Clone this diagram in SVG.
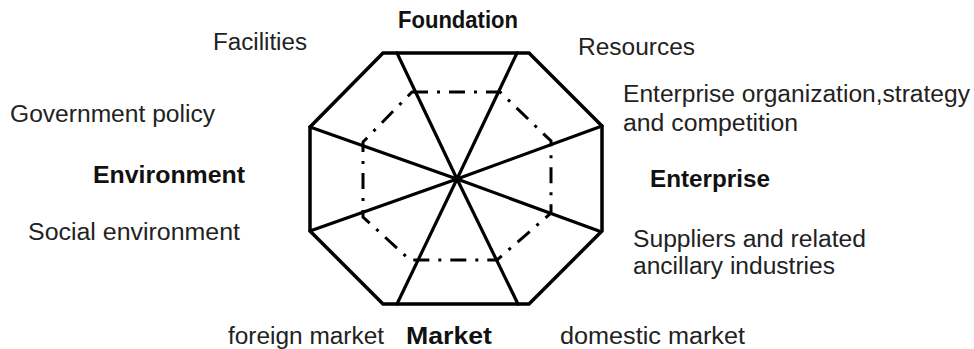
<svg xmlns="http://www.w3.org/2000/svg" width="974" height="349" viewBox="0 0 974 349">
  <style>
    .frame { fill: none; stroke: #000; stroke-width: 3.5; stroke-linejoin: miter; }
    .spoke { fill: none; stroke: #000; stroke-width: 3.2; stroke-linecap: round; }
    .inner { fill: none; stroke: #000; stroke-width: 3; stroke-dasharray: 16 9 3 9; }
    .lbl { font-family: "Liberation Sans", Arial, sans-serif; font-size: 23px; fill: #222; }
    .head { font-family: "Liberation Sans", Arial, sans-serif; font-size: 23px; font-weight: bold; fill: #111; }
  </style>
  <rect width="974" height="349" fill="#fff"/>

  <!-- outer octagon -->
  <g id="octagon">
    <polygon class="frame" points="383,53 529,53 602,126 602,231 529,304 383,304 310,231 310,127"/>
  </g>

  <!-- inner dash-dot octagon -->
  <g id="inner-ring">
    <polygon class="inner" points="412,92 500,92 551,141 551,213 497,260 410,260 363,217 363,142"/>
  </g>

  <!-- spokes from the centre -->
  <g id="connectors">
    <line class="spoke" x1="457" y1="179" x2="397" y2="53"/>
    <line class="spoke" x1="457" y1="179" x2="517" y2="53"/>
    <line class="spoke" x1="457" y1="179" x2="602" y2="126"/>
    <line class="spoke" x1="457" y1="179" x2="599" y2="231"/>
    <line class="spoke" x1="457" y1="179" x2="518" y2="304"/>
    <line class="spoke" x1="457" y1="179" x2="397" y2="304"/>
    <line class="spoke" x1="457" y1="179" x2="310" y2="231"/>
    <line class="spoke" x1="457" y1="179" x2="310" y2="127"/>
  </g>

  <!-- headings -->
  <g id="foundation"><text class="head" x="398" y="28" textLength="120" lengthAdjust="spacingAndGlyphs">Foundation</text></g>
  <g id="enterprise"><text class="head" x="650" y="187" textLength="120" lengthAdjust="spacingAndGlyphs">Enterprise</text></g>
  <g id="market"><text class="head" x="406" y="344" textLength="86" lengthAdjust="spacingAndGlyphs">Market</text></g>
  <g id="environment"><text class="head" x="93" y="183" textLength="152" lengthAdjust="spacingAndGlyphs">Environment</text></g>

  <!-- factor labels -->
  <g id="facilities"><text class="lbl" x="213" y="50" textLength="94" lengthAdjust="spacingAndGlyphs">Facilities</text></g>
  <g id="resources"><text class="lbl" x="578" y="55" textLength="117" lengthAdjust="spacingAndGlyphs">Resources</text></g>
  <g id="organization">
    <text class="lbl" x="623" y="102" textLength="347" lengthAdjust="spacingAndGlyphs">Enterprise organization,strategy</text>
    <text class="lbl" x="623" y="131" textLength="175" lengthAdjust="spacingAndGlyphs">and competition</text>
  </g>
  <g id="suppliers">
    <text class="lbl" x="633" y="247" textLength="233" lengthAdjust="spacingAndGlyphs">Suppliers and related</text>
    <text class="lbl" x="633" y="274" textLength="202" lengthAdjust="spacingAndGlyphs">ancillary industries</text>
  </g>
  <g id="domestic"><text class="lbl" x="560" y="344" textLength="185" lengthAdjust="spacingAndGlyphs">domestic market</text></g>
  <g id="foreign"><text class="lbl" x="228" y="344" textLength="156" lengthAdjust="spacingAndGlyphs">foreign market</text></g>
  <g id="social"><text class="lbl" x="28" y="240" textLength="212" lengthAdjust="spacingAndGlyphs">Social environment</text></g>
  <g id="government"><text class="lbl" x="10" y="122" textLength="205" lengthAdjust="spacingAndGlyphs">Government policy</text></g>
</svg>
